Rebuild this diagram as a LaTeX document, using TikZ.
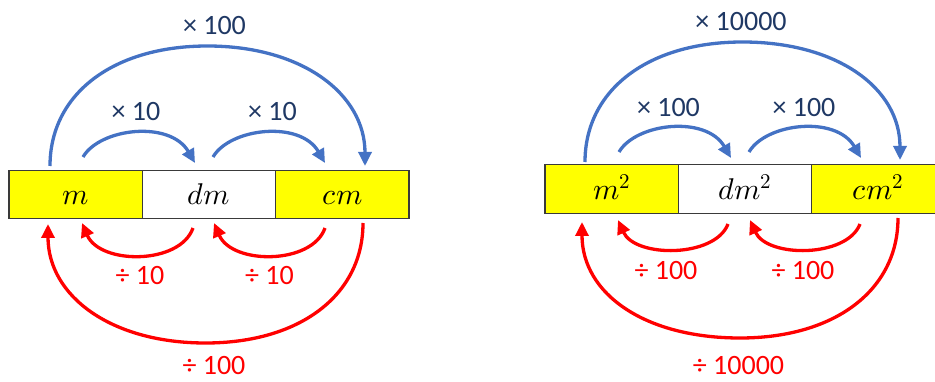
\documentclass[tikz,border=0pt]{standalone}
\usepackage{fontspec}
\usepackage{unicode-math}
\newfontfamily\labfont{Carlito}
\usetikzlibrary{arrows.meta}
\definecolor{arcblue}{HTML}{4472C4}
\definecolor{labnavy}{HTML}{1F3864}
\definecolor{arcred}{HTML}{FF0000}
\definecolor{cellyellow}{HTML}{FFFF00}
\definecolor{celledge}{HTML}{3A3A3A}
\begin{document}
\begin{tikzpicture}[x=1pt,y=-1pt,
  cellbox/.style={draw=celledge,line width=1.4pt,minimum width=133.33pt,minimum height=48.5pt,
    inner sep=0pt,text height=24pt,text depth=3pt,font=\fontsize{30}{34}\selectfont},
  yellowcell/.style={cellbox,fill=cellyellow},
  whitecell/.style={cellbox,fill=white},
  mularc/.style={draw=arcblue,line width=3.3pt,-{Triangle[length=14pt,width=13pt]}},
  divarc/.style={draw=arcred,line width=3.3pt,-{Triangle[length=14pt,width=13pt]}},
  mullab/.style={text=labnavy,inner sep=0pt,font=\labfont\fontsize{28}{30}\selectfont},
  divlab/.style={text=arcred,inner sep=0pt,font=\labfont\fontsize{28}{30}\selectfont}]
\useasboundingbox (0,0) rectangle (935,382);

% ---------- left panel ----------
\node[yellowcell] (mA)  at (75.67,194.5) {$m$};
\node[whitecell]  (dmA) at (209,194.5) {$dm$};
\node[yellowcell] (cmA) at (342.33,194.5) {$cm$};

\coordinate (bigBsA) at (50,166);
\coordinate (bigBeA) at (365,166);
\coordinate (s1sA) at (83,157);
\coordinate (s1eA) at (195,163);
\coordinate (s2sA) at (213,157);
\coordinate (s2eA) at (325,163);
\coordinate (r1sA) at (193,228);
\coordinate (r1eA) at (82,223);
\coordinate (r2sA) at (325,228);
\coordinate (r2eA) at (214,223);
\coordinate (bigRsA) at (363,223);
\coordinate (bigReA) at (48,224);

\draw[mularc] (bigBsA) .. controls (50,94) and (113,46) .. (207.5,46)
  .. controls (302,46) and (365,94) .. (bigBeA);
\draw[mularc] (s1sA) .. controls (100,128) and (170,120) .. (s1eA);
\draw[mularc] (s2sA) .. controls (230,128) and (300,120) .. (s2eA);
\draw[divarc] (r1sA) .. controls (180,265) and (100,265) .. (r1eA);
\draw[divarc] (r2sA) .. controls (312,265) and (232,265) .. (r2eA);
\draw[divarc] (bigRsA) .. controls (363,295) and (300,343) .. (205.5,343)
  .. controls (111,343) and (48,296) .. (bigReA);

\node[mullab] (tA) at (214.5,26) {× 100};
\node[mullab] (t1A) at (136,111.5) {× 10};
\node[mullab] (t2A) at (272.5,111.5) {× 10};
\node[divlab] (d1A) at (140,276) {÷ 10};
\node[divlab] (d2A) at (269.5,276) {÷ 10};
\node[divlab] (dA) at (214,366) {÷ 100};

% ---------- right panel ----------
\node[yellowcell] (mB)  at (611.67,189) {$m^2$};
\node[whitecell]  (dmB) at (745,189) {$dm^2$};
\node[yellowcell] (cmB) at (878.33,189) {$cm^2$};

\coordinate (bigBsB) at (585,162);
\coordinate (bigBeB) at (900,160);
\coordinate (s1sB) at (619,152);
\coordinate (s1eB) at (731,158);
\coordinate (s2sB) at (749,152);
\coordinate (s2eB) at (861,158);
\coordinate (r1sB) at (728,224);
\coordinate (r1eB) at (618,220);
\coordinate (r2sB) at (860,224);
\coordinate (r2eB) at (750,220);
\coordinate (bigRsB) at (898,218);
\coordinate (bigReB) at (582,222);

\draw[mularc] (bigBsB) .. controls (585,90) and (648,42) .. (742.5,42)
  .. controls (837,42) and (900,88) .. (bigBeB);
\draw[mularc] (s1sB) .. controls (636,123) and (706,115) .. (s1eB);
\draw[mularc] (s2sB) .. controls (766,123) and (836,115) .. (s2eB);
\draw[divarc] (r1sB) .. controls (715,258) and (635,258) .. (r1eB);
\draw[divarc] (r2sB) .. controls (847,258) and (767,258) .. (r2eB);
\draw[divarc] (bigRsB) .. controls (898,290) and (835,338) .. (740,338)
  .. controls (645,338) and (582,294) .. (bigReB);

\node[mullab] (tB) at (741,21.5) {× 10000};
\node[mullab] (t1B) at (668.5,107.5) {× 100};
\node[mullab] (t2B) at (804,107.5) {× 100};
\node[divlab] (d1B) at (666,270.5) {÷ 100};
\node[divlab] (d2B) at (803,270.5) {÷ 100};
\node[divlab] (dB) at (738.5,366) {÷ 10000};
\end{tikzpicture}
\end{document}
